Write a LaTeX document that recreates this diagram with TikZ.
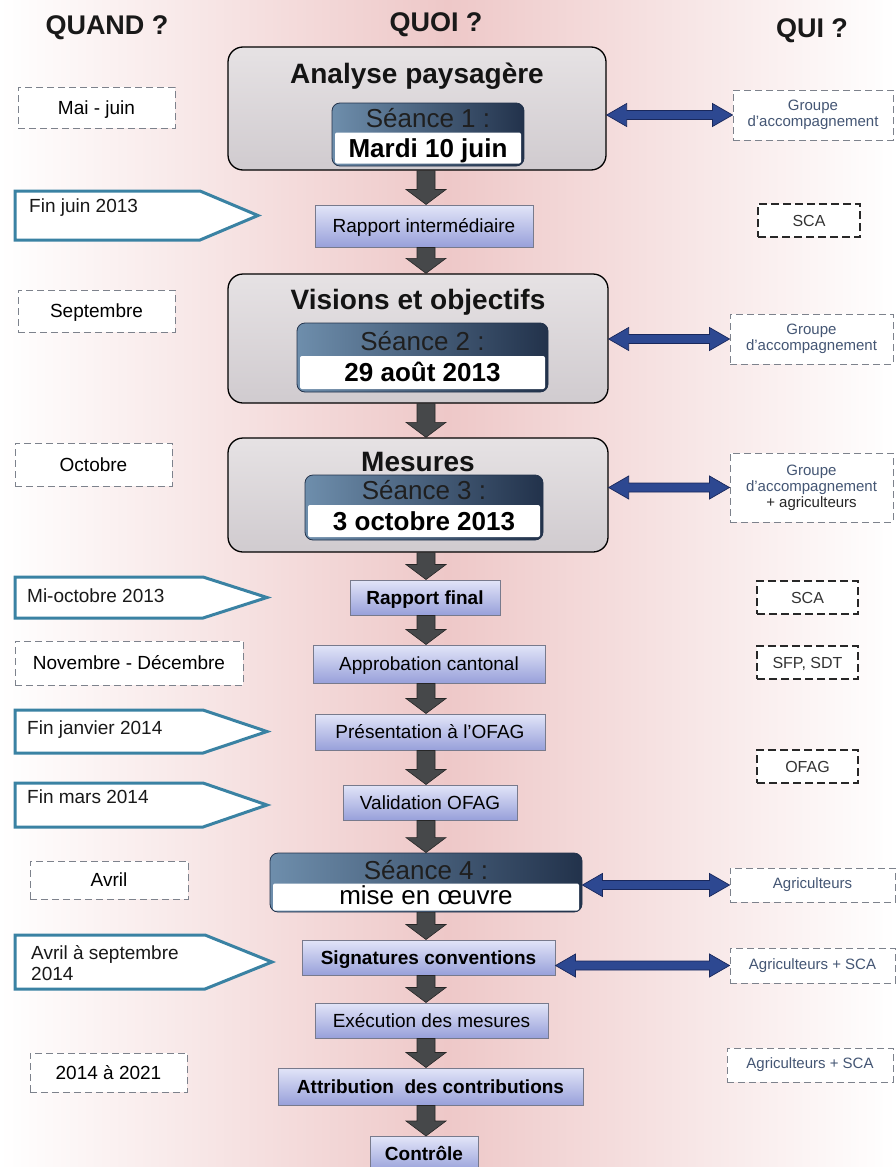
\documentclass[tikz,border=0pt]{standalone}
\usepackage{fontspec}
\setmainfont{Liberation Sans}
\usetikzlibrary{calc}
\definecolor{pinkbg}{RGB}{238,200,200}
\definecolor{boxtop}{RGB}{230,226,228}
\definecolor{boxbot}{RGB}{208,203,207}
\definecolor{steel}{RGB}{110,142,172}
\definecolor{navyd}{RGB}{34,50,75}
\definecolor{proctop}{RGB}{226,229,248}
\definecolor{procbot}{RGB}{152,160,218}
\definecolor{procedge}{RGB}{120,122,140}
\definecolor{pentcol}{RGB}{58,130,163}
\definecolor{dashgray}{RGB}{125,130,140}
\definecolor{dashdark}{RGB}{40,40,40}
\definecolor{arrblue}{RGB}{45,72,145}
\definecolor{arrblued}{RGB}{25,40,92}
\definecolor{arrgray}{RGB}{70,72,74}
\definecolor{quitext}{RGB}{68,86,116}
\tikzset{
  hdr/.style={inner sep=0pt, font=\fontsize{27}{30}\selectfont\bfseries, text=black!90, text height=19.4pt, text depth=0pt},
  ttl/.style={inner sep=0pt, font=\fontsize{28}{32}\selectfont\bfseries, text=black!92, text height=20pt, text depth=0pt},
  bigbox/.style 2 args={minimum width=#1, minimum height=#2, inner sep=0pt, draw=black, line width=1.3pt, rounded corners=15pt, top color=boxtop, bottom color=boxbot},
  seabox/.style 2 args={minimum width=#1, minimum height=#2, inner sep=0pt, draw=navyd, line width=0.8pt, rounded corners=8pt, left color=steel, right color=navyd},
  seatxt/.style={inner sep=0pt, font=\fontsize{26}{30}\selectfont, text=black!88, text height=18.6pt, text depth=0pt},
  datebox/.style 2 args={minimum width=#1, minimum height=#2, inner sep=0pt, fill=white, rounded corners=2pt, font=\fontsize{26}{30}\selectfont\bfseries, text height=18.6pt, text depth=0pt},
  proc/.style 2 args={minimum width=#1, minimum height=#2, inner sep=0pt, draw=procedge, line width=1pt, top color=proctop, bottom color=procbot, font=\fontsize{19}{22}\selectfont, text height=13.6pt, text depth=0pt},
  procb/.style={font=\fontsize{19}{22}\selectfont\bfseries},
  lbox/.style 2 args={minimum width=#1, minimum height=#2, inner sep=0pt, draw=dashgray, line width=1pt, dash pattern=on 7pt off 4pt, fill=white, font=\fontsize{19}{22}\selectfont, text height=13.6pt, text depth=0pt},
  rbox/.style 2 args={minimum width=#1, minimum height=#2, inner sep=0pt, draw=dashgray, line width=1pt, dash pattern=on 7pt off 4pt, fill=white, font=\fontsize{15}{16}\selectfont, text=quitext, align=center},
  rdark/.style 2 args={minimum width=#1, minimum height=#2, inner sep=0pt, draw=dashdark, line width=1.5pt, dash pattern=on 8pt off 4pt, fill=white, font=\fontsize{16}{18}\selectfont, text=black!80, text height=11.5pt, text depth=0pt},
  pent/.style={draw=pentcol, line width=3pt, fill=white, line join=miter},
  penttxt/.style={anchor=west, inner sep=0pt, font=\fontsize{19}{21}\selectfont, text=black!90, align=left},
  arrdn/.style={fill=arrgray, draw=black!85, line width=0.6pt},
  arrlr/.style={fill=arrblue, draw=arrblued, line width=0.7pt}
}
\newcommand\dnarrow[2]{%
  \path let \p1=(#1.south -| col), \p2=(#2.north -| col) in
    [arrdn] (\x1-9pt,\y1) -- (\x1+9pt,\y1) -- (\x1+9pt,\y2+15pt) -- (\x1+20pt,\y2+15pt)
    -- (\x1,\y2) -- (\x1-20pt,\y2+15pt) -- (\x1-9pt,\y2+15pt) -- cycle;}
\newcommand\lrarrow[2]{%
  \path let \p1=#1, \p2=#2 in
    [arrlr] (\x1,\y1) -- (\x1+20pt,\y1+11.5pt) -- (\x1+20pt,\y1+4.5pt) -- (\x2-20pt,\y1+4.5pt)
    -- (\x2-20pt,\y1+11.5pt) -- (\x2,\y1) -- (\x2-20pt,\y1-11.5pt) -- (\x2-20pt,\y1-4.5pt)
    -- (\x1+20pt,\y1-4.5pt) -- (\x1+20pt,\y1-11.5pt) -- cycle;}
\begin{document}
\begin{tikzpicture}[x=1pt,y=-1pt]
\useasboundingbox (0,0) rectangle (895,1167);
\shade[left color=white,right color=white,middle color=pinkbg] (0,0) rectangle (895,1167);
\coordinate (col) at (426,0);

% headers
\node[hdr] (hq) at (107,25) {QUAND ?};
\node[hdr] (hw) at (436,22) {QUOI ?};
\node[hdr] (hi) at (812,28) {QUI ?};

% QUOI column
\node[bigbox={378}{123}] (b1) at (417,108.5) {};
\node[ttl] (b1t) at (417,73) {Analyse paysagère};
\node[seabox={192}{63}] (s1) at (428,134.5) {};
\node[seatxt] (s1t) at (428,118) {Séance 1 :};
\node[datebox={186}{31}] (s1d) at (428,148) {Mardi 10 juin};

\node[proc={218}{42}] (ri) at (424,226) {Rapport intermédiaire};

\node[bigbox={380}{129}] (b2) at (418,338.5) {};
\node[ttl] (b2t) at (418,299) {Visions et objectifs};
\node[seabox={251}{69}] (s2) at (422.5,357.5) {};
\node[seatxt] (s2t) at (422.5,341) {Séance 2 :};
\node[datebox={245}{33}] (s2d) at (422.5,372.5) {29 août 2013};

\node[bigbox={380}{114}] (b3) at (418,495) {};
\node[ttl] (b3t) at (418,461) {Mesures};
\node[seabox={238}{65}] (s3) at (424,507.5) {};
\node[seatxt] (s3t) at (424,490) {Séance 3 :};
\node[datebox={232}{32}] (s3d) at (424,521) {3 octobre 2013};

\node[proc={150}{35}, procb] (rf) at (425,597.5) {Rapport final};
\node[proc={232}{38}] (ac) at (429,664) {Approbation cantonal};
\node[proc={230}{36}] (po) at (430,732) {Présentation à l’OFAG};
\node[proc={174}{35}] (vo) at (430,802.5) {Validation OFAG};

\node[seabox={312}{59}] (s4) at (426,882.5) {};
\node[seatxt] (s4t) at (426,870) {Séance 4 :};
\node[datebox={306}{27}, font=\fontsize{26}{30}\selectfont, text height=14pt] (s4d) at (426,897) {mise en œuvre};

\node[proc={253}{35}, procb] (sc) at (428.5,957.5) {Signatures conventions};
\node[proc={233}{35}] (ex) at (431.5,1020.5) {Exécution des mesures};
\node[proc={305}{37}, procb] (at) at (430.5,1086.5) {Attribution\ \ des contributions};
\node[proc={108}{35}, procb] (co) at (424,1154) {Contrôle};

% down arrows
\dnarrow{b1}{ri}
\dnarrow{ri}{b2}
\dnarrow{b2}{b3}
\dnarrow{b3}{rf}
\dnarrow{rf}{ac}
\dnarrow{ac}{po}
\dnarrow{po}{vo}
\dnarrow{vo}{s4}
\dnarrow{s4}{sc}
\dnarrow{sc}{ex}
\dnarrow{ex}{at}
\dnarrow{at}{co}

% QUAND column
\node[lbox={157}{41}] (mj) at (96.5,107.5) {Mai - juin};
\draw[pent] (15,191) -- (200,191) -- (258,215.5) -- (200,240) -- (15,240) -- cycle;
\node[penttxt] (p1) at (29,208) {Fin juin 2013};
\node[lbox={157}{42}] (se) at (96.5,311) {Septembre};
\node[lbox={157}{43}] (oc) at (93.5,464.5) {Octobre};
\draw[pent] (15,577) -- (203,577) -- (267,597.5) -- (203,618) -- (15,618) -- cycle;
\node[penttxt] (p2) at (27,596) {Mi-octobre 2013};
\node[lbox={228}{44}] (nd) at (129,663) {Novembre - Décembre};
\draw[pent] (15,710) -- (203,710) -- (267,731.5) -- (203,753) -- (15,753) -- cycle;
\node[penttxt] (p3) at (27,730) {Fin janvier 2014};
\draw[pent] (15,783) -- (203,783) -- (267,805) -- (203,827) -- (15,827) -- cycle;
\node[penttxt] (p4) at (27,797) {Fin mars 2014};
\node[lbox={158}{38}] (av) at (109,880) {Avril};
\draw[pent] (15,935) -- (205,935) -- (272,962) -- (205,989) -- (15,989) -- cycle;
\node[penttxt] (p5) at (31,963) {Avril à septembre\\2014};
\node[lbox={157}{39}] (yr) at (108.5,1072.5) {2014 à 2021};

% QUI column
\node[rbox={160}{50}] (g1) at (813,115) {Groupe\\d’accompagnement};
\node[rdark={102}{33}] (sca1) at (809,220.5) {SCA};
\node[rbox={163}{50}] (g2) at (811.5,339) {Groupe\\d’accompagnement};
\node[rbox={163}{69}] (g3) at (811.5,487.5) {Groupe\\d’accompagnement\\\textcolor{black!85}{+ agriculteurs}};
\node[rdark={101}{33}] (sca2) at (807.5,597.5) {SCA};
\node[rdark={101}{33}] (sfp) at (807.5,662.5) {SFP, SDT};
\node[rdark={101}{33}] (ofag) at (807.5,766.5) {OFAG};
\node[rbox={165}{34}] (agr) at (812.5,885) {Agriculteurs};
\node[rbox={165}{35}] (as1) at (812.5,965.5) {Agriculteurs + SCA};
\node[rbox={166}{34}] (as2) at (810,1065) {Agriculteurs + SCA};

% double arrows
\lrarrow{(b1.east |- g1.west)}{(g1.west)}
\lrarrow{(b2.east |- g2.west)}{(g2.west)}
\lrarrow{(b3.east |- g3.west)}{(g3.west)}
\lrarrow{(s4.east |- agr.west)}{(agr.west)}
\lrarrow{(sc.east |- as1.west)}{(as1.west)}
\end{tikzpicture}
\end{document}
